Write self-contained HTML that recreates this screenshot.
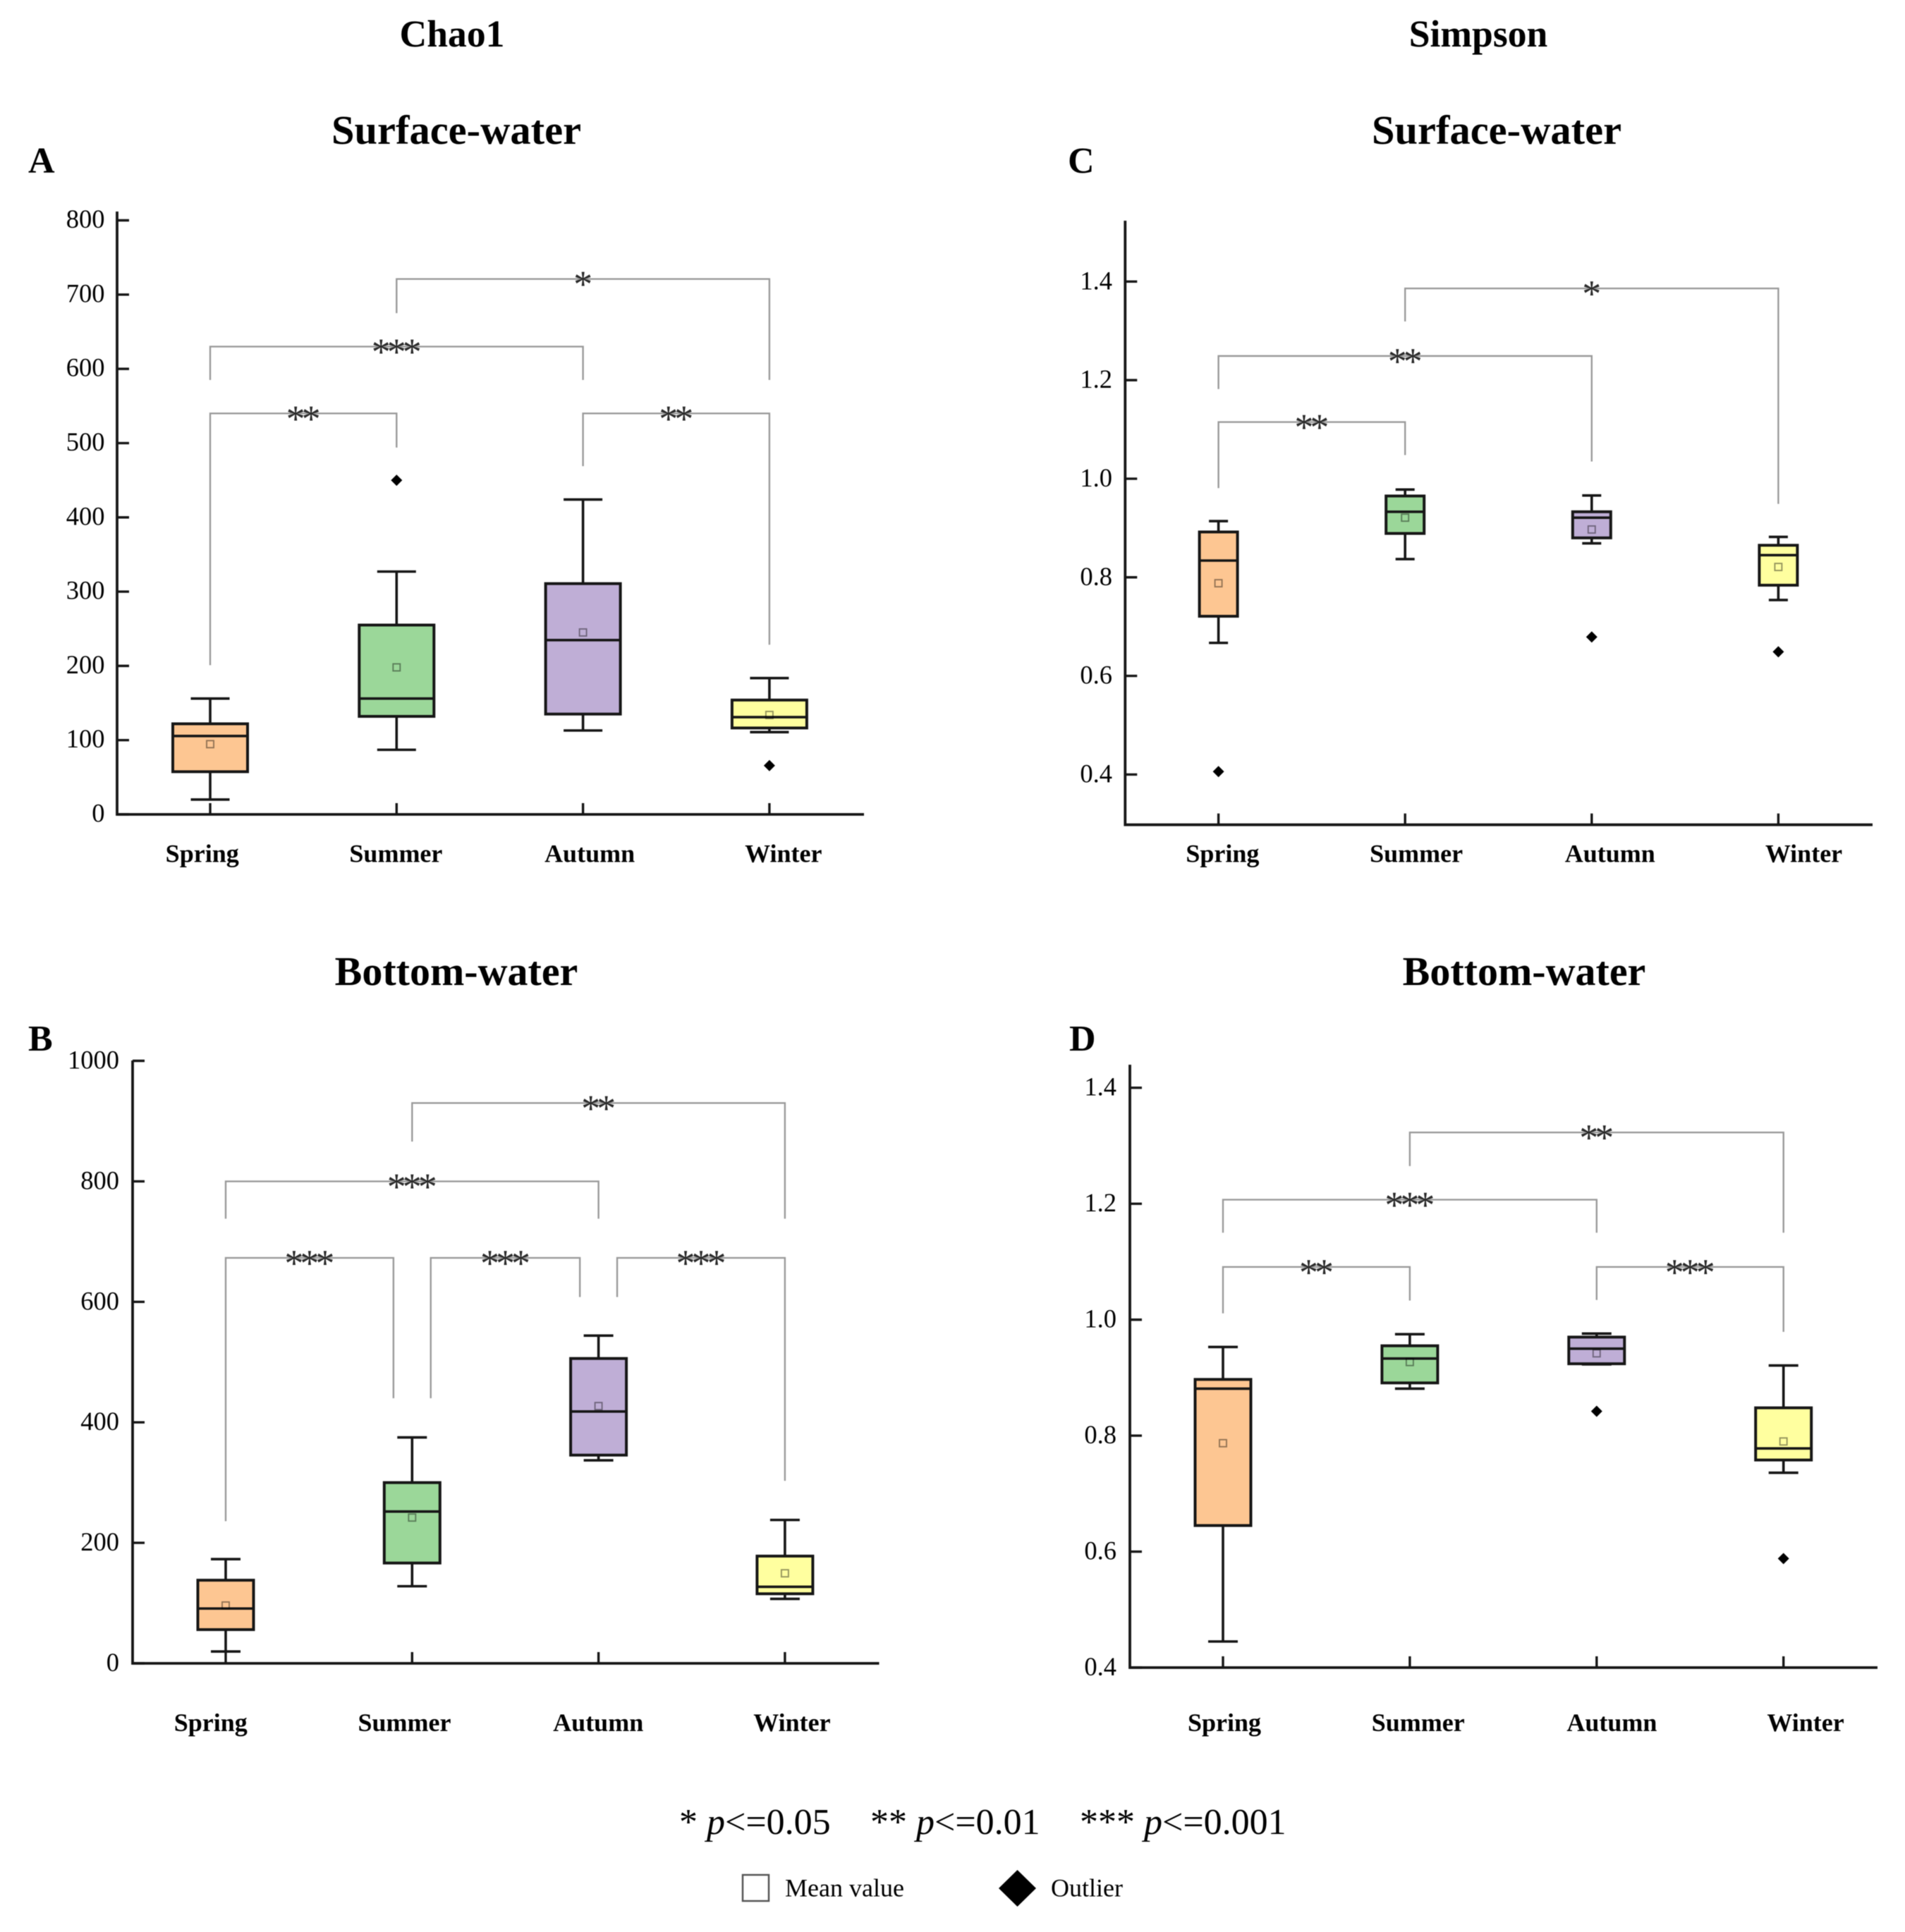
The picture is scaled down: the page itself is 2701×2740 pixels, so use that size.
<!DOCTYPE html>
<html lang="en">
<head>
<meta charset="utf-8">
<title>Chao1 and Simpson seasonal diversity boxplots</title>
<style>
html,body{margin:0;padding:0;background:#fff;}
svg{display:block;filter:blur(0.6px);}
text{font-family:"Liberation Serif",serif;fill:#000;}
.title-main{font-size:53.6px;font-weight:bold;text-anchor:middle;}
.title-sub{font-size:58.5px;font-weight:bold;text-anchor:middle;}
.title-bottom{font-size:58px;font-weight:bold;text-anchor:middle;}
.panel-letter{font-size:52px;font-weight:bold;}
.tick-label{font-size:36.5px;text-anchor:end;}
.cat-label{font-size:36px;font-weight:bold;text-anchor:middle;}
.stars{font-size:54px;letter-spacing:-5px;text-anchor:middle;fill:#2a2a2a;}
.note{font-size:52px;}
.legend-text{font-size:36px;}
</style>
</head>
<body>
<svg id="chart" xmlns="http://www.w3.org/2000/svg" width="2701" height="2740" viewBox="0 0 2701 2740">
  <rect x="0" y="0" width="2701" height="2740" fill="#ffffff"/>
  <text class="title-main" x="641" y="66">Chao1</text>
  <text class="title-main" x="2096" y="66">Simpson</text>
  <text class="title-sub" x="647" y="204">Surface-water</text>
  <text class="title-sub" x="2122" y="204">Surface-water</text>
  <text class="title-bottom" x="647" y="1397">Bottom-water</text>
  <text class="title-bottom" x="2161" y="1397">Bottom-water</text>
  <text class="panel-letter" x="40" y="245">A</text>
  <text class="panel-letter" x="1514" y="245">C</text>
  <text class="panel-letter" x="40" y="1490">B</text>
  <text class="panel-letter" x="1516" y="1490">D</text>

  <g id="panels"></g>

  <g>
    <text class="note" x="963" y="2601">* <tspan font-style="italic">p</tspan>&lt;=0.05</text>
    <text class="note" x="1234" y="2601">** <tspan font-style="italic">p</tspan>&lt;=0.01</text>
    <text class="note" x="1531" y="2601">*** <tspan font-style="italic">p</tspan>&lt;=0.001</text>
  </g>
  <g>
    <rect x="1053" y="2659" width="37" height="37" fill="#fff" stroke="#555" stroke-width="2.5"/>
    <text class="legend-text" x="1113" y="2689.5">Mean value</text>
    <polygon points="1442.5,2652 1469,2678 1442.5,2704 1416,2678" fill="#000"/>
    <text class="legend-text" x="1490" y="2689.5">Outlier</text>
  </g>
</svg>
<script>
const categories = ['Spring', 'Summer', 'Autumn', 'Winter'];

// Panel A: Chao1, surface water
const aTicks = [0, 100, 200, 300, 400, 500, 600, 700, 800];
const aTickLabels = ['0', '100', '200', '300', '400', '500', '600', '700', '800'];
const aLow = [20, 87, 113, 110.8];
const aQ1 = [57.5, 132, 135.1, 116.4];
const aMedian = [105.6, 156, 234.7, 131];
const aQ3 = [122, 255, 310.8, 154];
const aHigh = [156, 327, 424, 183.6];
const aMean = [94.6, 198, 245, 133.9];
const aOutlier = [null, 450, null, 65.8];
const aBracketFrom = [0, 0, 1, 2];
const aBracketTo = [1, 2, 3, 3];
const aBracketTop = [540, 630, 721, 540];
const aBracketLeftEnd = [201, 585, 675, 469];
const aBracketRightEnd = [494, 585, 585, 228.5];
const aBracketStars = ['**', '***', '*', '**'];

// Panel B: Chao1, bottom water
const bTicks = [0, 200, 400, 600, 800, 1000];
const bTickLabels = ['0', '200', '400', '600', '800', '1000'];
const bLow = [19.7, 128, 337, 107];
const bQ1 = [56, 166.5, 345.6, 115.5];
const bMedian = [91, 252, 418, 127];
const bQ3 = [138, 300, 506, 178];
const bHigh = [173, 375, 544, 238];
const bMean = [96, 242, 427, 149.5];
const bOutlier = [null, null, null, null];
const bBracketFrom = [1, 0, 0, 1.1, 2.1];
const bBracketTo = [3, 2, 0.9, 1.9, 3];
const bBracketTop = [930, 800, 673, 673, 673];
const bBracketLeftEnd = [866, 738, 236, 440, 608];
const bBracketRightEnd = [738, 738, 440, 608, 303];
const bBracketStars = ['**', '***', '***', '***', '***'];

// Panel C: Simpson, surface water
const cTicks = [0.4, 0.6, 0.8, 1.0, 1.2, 1.4];
const cTickLabels = ['0.4', '0.6', '0.8', '1.0', '1.2', '1.4'];
const cLow = [0.667, 0.837, 0.869, 0.754];
const cQ1 = [0.721, 0.889, 0.880, 0.784];
const cMedian = [0.834, 0.933, 0.921, 0.845];
const cQ3 = [0.892, 0.965, 0.933, 0.865];
const cHigh = [0.914, 0.978, 0.966, 0.882];
const cMean = [0.788, 0.921, 0.897, 0.821];
const cOutlier = [0.406, null, 0.679, 0.649];
const cBracketFrom = [1, 0, 0];
const cBracketTo = [3, 2, 1];
const cBracketTop = [1.386, 1.249, 1.115];
const cBracketLeftEnd = [1.319, 1.182, 0.981];
const cBracketRightEnd = [0.949, 1.035, 1.048];
const cBracketStars = ['*', '**', '**'];

// Panel D: Simpson, bottom water
const dTicks = [0.4, 0.6, 0.8, 1.0, 1.2, 1.4];
const dTickLabels = ['0.4', '0.6', '0.8', '1.0', '1.2', '1.4'];
const dLow = [0.445, 0.881, 0.923, 0.736];
const dQ1 = [0.645, 0.891, 0.924, 0.758];
const dMedian = [0.881, 0.933, 0.950, 0.778];
const dQ3 = [0.897, 0.955, 0.970, 0.848];
const dHigh = [0.953, 0.975, 0.976, 0.921];
const dMean = [0.787, 0.927, 0.942, 0.790];
const dOutlier = [null, null, 0.842, 0.588];
const dBracketFrom = [1, 0, 0, 2];
const dBracketTo = [3, 2, 1, 3];
const dBracketTop = [1.323, 1.207, 1.091, 1.091];
const dBracketLeftEnd = [1.265, 1.150, 1.011, 1.034];
const dBracketRightEnd = [1.150, 1.150, 1.033, 0.979];
const dBracketStars = ['**', '***', '**', '***'];

const seasonFills = ['#fdc692', '#9bd799', '#bfaed6', '#ffff9f'];
const NS = 'http://www.w3.org/2000/svg';
const AXIS = '#161616';

function shape(parent, tag, attrs) {
  const el = document.createElementNS(NS, tag);
  for (const k in attrs) el.setAttribute(k, attrs[k]);
  parent.appendChild(el);
  return el;
}

function drawPanel(root, p) {
  const xS = function (i) { return p.catX0 + i * p.catDx; };
  const yS = function (v) { return p.yAtA + (v - p.vA) * (p.yAtB - p.yAtA) / (p.vB - p.vA); };

  const g = shape(root, 'g', {});
  
  

  // significance brackets
  p.bracketStars.forEach(function (stars, i) {
    const xl = xS(p.bracketFrom[i]);
    const xr = xS(p.bracketTo[i]);
    const yt = yS(p.bracketTop[i]);
    const br = shape(g, 'polyline', {
      points: xl + ',' + yS(p.bracketLeftEnd[i]) + ' ' + xl + ',' + yt + ' ' + xr + ',' + yt + ' ' + xr + ',' + yS(p.bracketRightEnd[i]),
      fill: 'none', stroke: '#9a9a9a', 'stroke-width': 2.4
    });
    
    
    const st = shape(g, 'text', { x: (xl + xr) / 2 - 2.5, y: yt + 25.5, class: 'stars' });
    st.textContent = stars;
    
    
  });

  // axes
  const ax = shape(g, 'path', {
    d: 'M' + p.axisX + ' ' + p.axisTop + 'V' + p.axisBase + 'H' + p.axisRight,
    fill: 'none', stroke: AXIS, 'stroke-width': 3.8
  });
  
  

  p.ticks.forEach(function (v, i) {
    const y = yS(v);
    const t = shape(g, 'line', { x1: p.axisX, x2: p.axisX + 17, y1: y, y2: y, stroke: AXIS, 'stroke-width': 3.4 });
    
    
    const l = shape(g, 'text', { x: p.labelRight, y: y + p.labelDrop, class: 'tick-label' });
    l.textContent = p.tickLabels[i];
    
    
  });

  categories.forEach(function (cat, i) {
    const x = xS(i);
    const name = 'panel-' + p.id + '-' + cat.toLowerCase();

    const t = shape(g, 'line', { x1: x, x2: x, y1: p.axisBase, y2: p.axisBase - 16, stroke: AXIS, 'stroke-width': 3.4 });
    
    

    const l = shape(g, 'text', { x: p.labelX0 + i * p.labelDx, y: p.labelY, class: 'cat-label' });
    l.textContent = cat;
    
    

    const w = shape(g, 'path', {
      d: 'M' + x + ' ' + yS(p.high[i]) + 'V' + yS(p.q3[i]) + 'M' + x + ' ' + yS(p.q1[i]) + 'V' + yS(p.low[i]) +
         'M' + (x - p.capHalf) + ' ' + yS(p.high[i]) + 'H' + (x + p.capHalf) +
         'M' + (x - p.capHalf) + ' ' + yS(p.low[i]) + 'H' + (x + p.capHalf),
      fill: 'none', stroke: AXIS, 'stroke-width': 3.6
    });
    
    

    const b = shape(g, 'rect', {
      x: x - p.boxHalf, width: 2 * p.boxHalf, y: yS(p.q3[i]), height: yS(p.q1[i]) - yS(p.q3[i]),
      fill: seasonFills[i], stroke: AXIS, 'stroke-width': 4
    });
    
    

    const m = shape(g, 'line', {
      x1: x - p.boxHalf, x2: x + p.boxHalf, y1: yS(p.median[i]), y2: yS(p.median[i]), stroke: AXIS, 'stroke-width': 3.6
    });
    
    

    const mean = shape(g, 'rect', {
      x: x - 5, y: yS(p.mean[i]) - 5, width: 10, height: 10,
      fill: 'none', stroke: '#000', 'stroke-opacity': 0.42, 'stroke-width': 1.9
    });
    
    

    if (p.outlier[i] !== null) {
      const oy = yS(p.outlier[i]);
      const d = shape(g, 'polygon', {
        points: x + ',' + (oy - 8) + ' ' + (x + 8) + ',' + oy + ' ' + x + ',' + (oy + 8) + ' ' + (x - 8) + ',' + oy,
        fill: '#000'
      });
      
      
    }
  });
}

const panelsRoot = document.getElementById('panels');

drawPanel(panelsRoot, {
  id: 'a', ticks: aTicks, tickLabels: aTickLabels,
  low: aLow, q1: aQ1, median: aMedian, q3: aQ3, high: aHigh, mean: aMean, outlier: aOutlier,
  bracketFrom: aBracketFrom, bracketTo: aBracketTo, bracketTop: aBracketTop,
  bracketLeftEnd: aBracketLeftEnd, bracketRightEnd: aBracketRightEnd, bracketStars: aBracketStars,
  axisX: 166, axisRight: 1225, axisBase: 1155, axisTop: 300,
  vA: 0, yAtA: 1155, vB: 800, yAtB: 312.5,
  catX0: 298, catDx: 264.3, boxHalf: 53, capHalf: 27.5,
  labelRight: 148.5, labelDrop: 10.5, labelX0: 286.7, labelDx: 274.7, labelY: 1222.5
});

drawPanel(panelsRoot, {
  id: 'b', ticks: bTicks, tickLabels: bTickLabels,
  low: bLow, q1: bQ1, median: bMedian, q3: bQ3, high: bHigh, mean: bMean, outlier: bOutlier,
  bracketFrom: bBracketFrom, bracketTo: bBracketTo, bracketTop: bBracketTop,
  bracketLeftEnd: bBracketLeftEnd, bracketRightEnd: bBracketRightEnd, bracketStars: bBracketStars,
  axisX: 188, axisRight: 1246.5, axisBase: 2359, axisTop: 1504,
  vA: 0, yAtA: 2359, vB: 1000, yAtB: 1504.5,
  catX0: 320, catDx: 264.3, boxHalf: 39.5, capHalf: 21,
  labelRight: 169, labelDrop: 11, labelX0: 298.8, labelDx: 274.7, labelY: 2455
});

drawPanel(panelsRoot, {
  id: 'c', ticks: cTicks, tickLabels: cTickLabels,
  low: cLow, q1: cQ1, median: cMedian, q3: cQ3, high: cHigh, mean: cMean, outlier: cOutlier,
  bracketFrom: cBracketFrom, bracketTo: cBracketTo, bracketTop: cBracketTop,
  bracketLeftEnd: cBracketLeftEnd, bracketRightEnd: cBracketRightEnd, bracketStars: cBracketStars,
  axisX: 1595.3, axisRight: 2655, axisBase: 1169.7, axisTop: 313,
  vA: 0.4, yAtA: 1098.4, vB: 1.4, yAtB: 399.3,
  catX0: 1727.6, catDx: 264.6, boxHalf: 27, capHalf: 13.5,
  labelRight: 1577, labelDrop: 11, labelX0: 1733.4, labelDx: 274.7, labelY: 1222.5
});

drawPanel(panelsRoot, {
  id: 'd', ticks: dTicks, tickLabels: dTickLabels,
  low: dLow, q1: dQ1, median: dMedian, q3: dQ3, high: dHigh, mean: dMean, outlier: dOutlier,
  bracketFrom: dBracketFrom, bracketTo: dBracketTo, bracketTop: dBracketTop,
  bracketLeftEnd: dBracketLeftEnd, bracketRightEnd: dBracketRightEnd, bracketStars: dBracketStars,
  axisX: 1602, axisRight: 2662, axisBase: 2365, axisTop: 1510,
  vA: 0.4, yAtA: 2365, vB: 1.4, yAtB: 1542.7,
  catX0: 1734, catDx: 264.9, boxHalf: 39.5, capHalf: 21,
  labelRight: 1583, labelDrop: 11, labelX0: 1736, labelDx: 274.7, labelY: 2455
});
</script>
</body>
</html>
